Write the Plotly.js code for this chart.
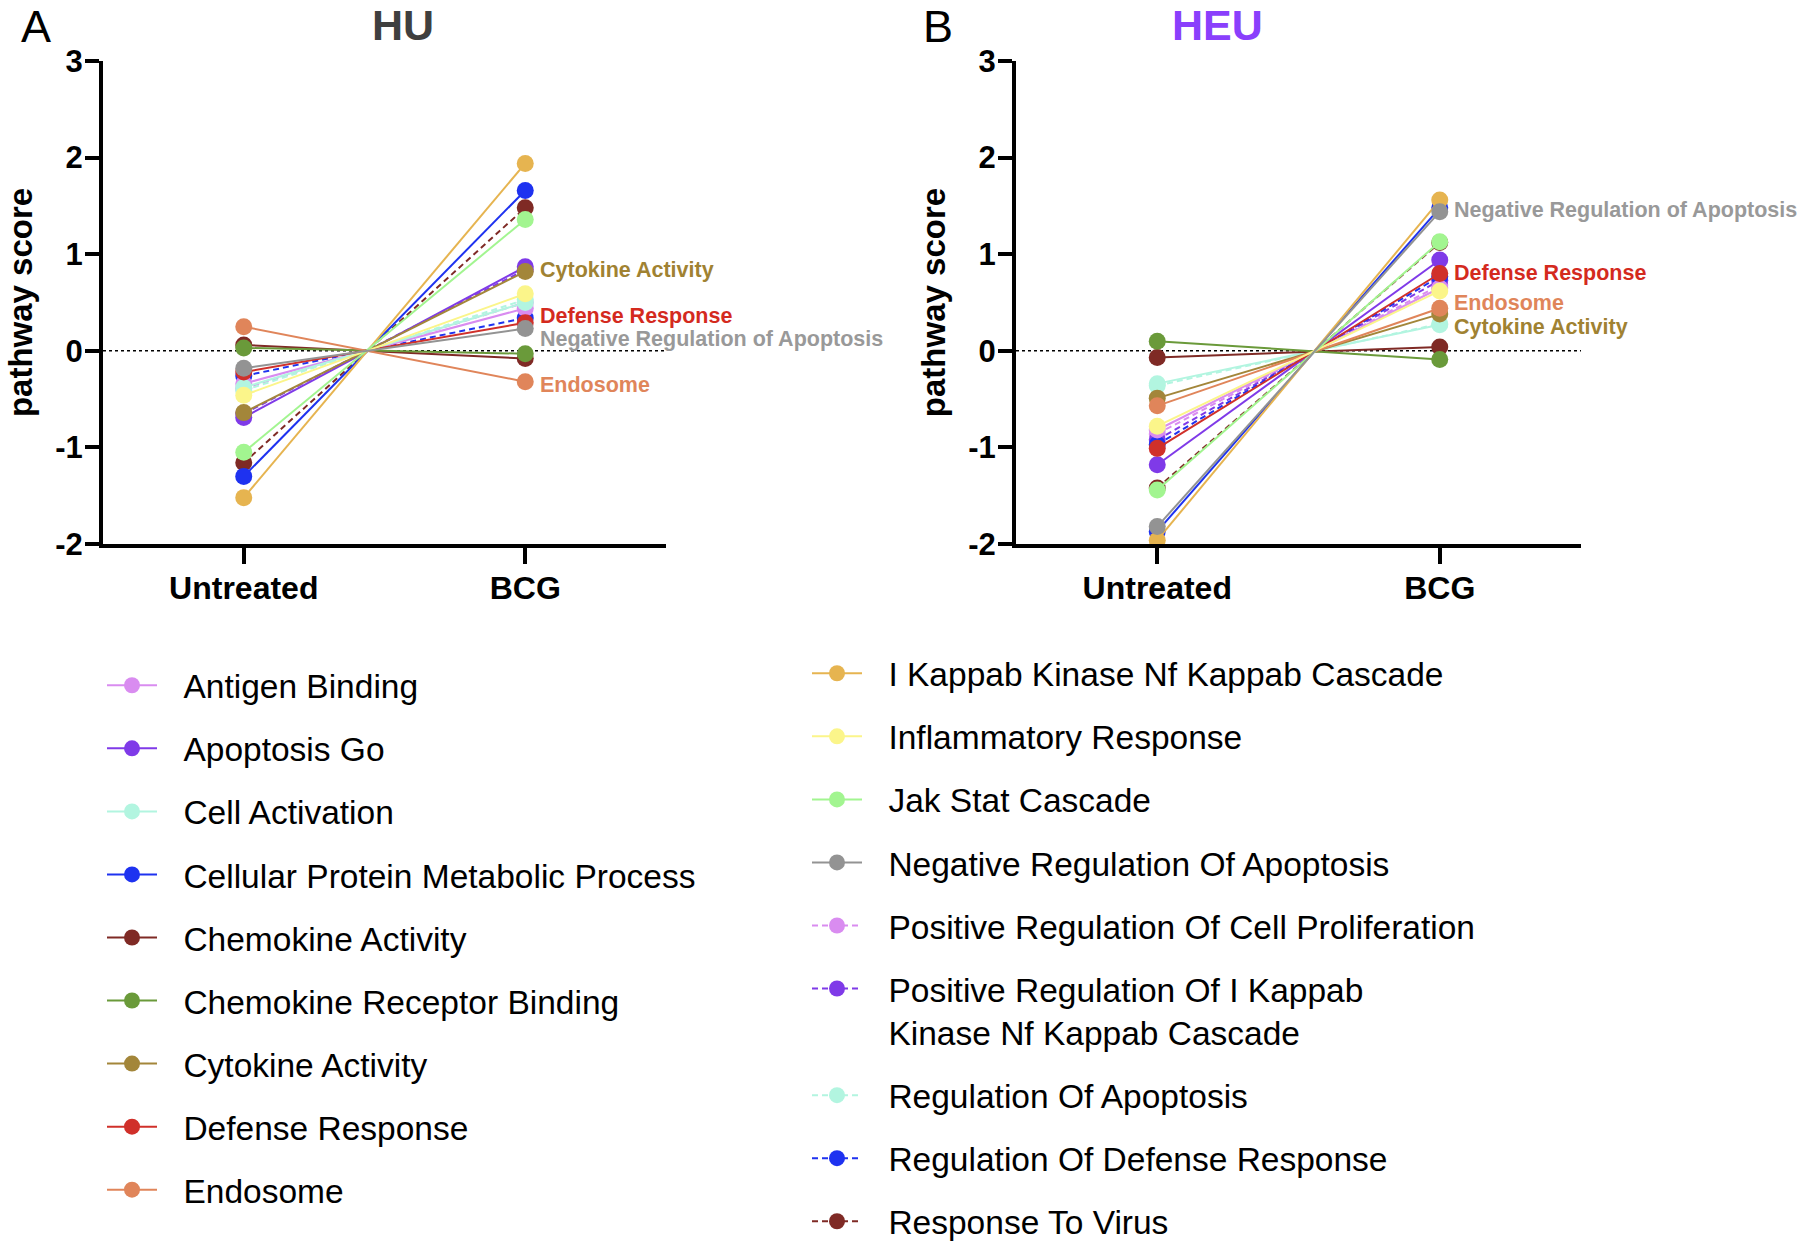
<!DOCTYPE html>
<html>
<head>
<meta charset="utf-8">
<script src="https://cdn.plot.ly/plotly-3.0.1.min.js"></script>
<style>
html,body{margin:0;padding:0;background:#fff;}
#chart{width:1800px;height:1244px;}
</style>
</head>
<body>
<div id="chart"></div>
<script>
// ---------- data ----------
const categories = ['Untreated', 'BCG'];

const pathways = [
  'Antigen Binding',
  'Apoptosis Go',
  'Cell Activation',
  'Cellular Protein Metabolic Process',
  'Chemokine Activity',
  'Chemokine Receptor Binding',
  'Cytokine Activity',
  'Defense Response',
  'Endosome',
  'I Kappab Kinase Nf Kappab Cascade',
  'Inflammatory Response',
  'Jak Stat Cascade',
  'Negative Regulation Of Apoptosis',
  'Positive Regulation Of Cell Proliferation',
  'Positive Regulation Of I Kappab Kinase Nf Kappab Cascade',
  'Regulation Of Apoptosis',
  'Regulation Of Defense Response',
  'Response To Virus'
];

// HU panel (A)
const huUntreated = [-0.34, -0.69, -0.38, -1.30, 0.06, 0.03, -0.64, -0.22, 0.25,
                     -1.52, -0.46, -1.05, -0.18, -0.39, -0.65, -0.41, -0.26, -1.16];
const huBCG       = [0.44, 0.87, 0.50, 1.66, -0.08, -0.03, 0.82, 0.29, -0.32,
                     1.94, 0.59, 1.36, 0.23, 0.50, 0.84, 0.53, 0.34, 1.48];

// HEU panel (B)
const heuUntreated = [-0.82, -1.18, -0.34, -1.87, -0.07, 0.10, -0.49, -1.01, -0.57,
                      -1.96, -0.78, -1.44, -1.82, -0.86, -0.92, -0.36, -0.97, -1.42];
const heuBCG       = [0.65, 0.94, 0.27, 1.48, 0.04, -0.09, 0.38, 0.80, 0.44,
                      1.56, 0.62, 1.13, 1.44, 0.68, 0.73, 0.28, 0.77, 1.12];

const yTickVals = [-2, -1, 0, 1, 2, 3];
const yTickText = ['-2', '-1', '0', '1', '2', '3'];

// labelled pathways next to BCG points
const huLabels = ['Cytokine Activity', 'Defense Response', 'Negative Regulation of Apoptosis', 'Endosome'];
const huLabelY = [0.84, 0.36, 0.12, -0.35];
const heuLabels = ['Negative Regulation of Apoptosis', 'Defense Response', 'Endosome', 'Cytokine Activity'];
const heuLabelY = [1.46, 0.81, 0.49, 0.25];

// ---------- styles ----------
const colors = ['#d98cf0', '#7f3ae8', '#b2f5e0', '#1e32f0', '#7f2a25', '#6a9a3a', '#a3863a', '#d0302a', '#e0855a',
                '#e6b450', '#fbf58a', '#a2f590', '#939393', '#d98cf0', '#7f3ae8', '#b2f5e0', '#1e32f0', '#7f2a25'];
const dashes = ['solid','solid','solid','solid','solid','solid','solid','solid','solid',
                'solid','solid','solid','solid','6px,4px','6px,4px','6px,4px','6px,4px','6px,4px'];
const labelColors = {'Cytokine Activity':'#a08232','Defense Response':'#d42a1e',
                     'Negative Regulation of Apoptosis':'#999999','Endosome':'#e0855a'};

function legendLabel(n){
  const pad = '&nbsp;&nbsp;\u200A';
  return n === 'Positive Regulation Of I Kappab Kinase Nf Kappab Cascade'
    ? pad + 'Positive Regulation Of I Kappab<br>' + pad + 'Kinase Nf Kappab Cascade' : pad + n;
}

// drawing order: dashed series underneath, solid series on top
const drawOrder = [];
for (let i = 0; i < pathways.length; i++) if (dashes[i] !== 'solid') drawOrder.push(i);
for (let i = 0; i < pathways.length; i++) if (dashes[i] === 'solid') drawOrder.push(i);

const traces = [];
drawOrder.forEach(i => {
  traces.push({
    type: 'scatter', mode: 'lines+markers',
    x: categories, y: [huUntreated[i], huBCG[i]],
    xaxis: 'x', yaxis: 'y',
    name: legendLabel(pathways[i]),
    legendgroup: pathways[i], legendrank: i + 1,
    legend: i < 9 ? 'legend' : 'legend2',
    showlegend: true,
    line: {color: colors[i], width: 2, dash: dashes[i]},
    marker: {color: colors[i], size: 17},
    cliponaxis: false
  });
});
drawOrder.forEach(i => {
  traces.push({
    type: 'scatter', mode: 'lines+markers',
    x: categories, y: [heuUntreated[i], heuBCG[i]],
    xaxis: 'x2', yaxis: 'y2',
    name: legendLabel(pathways[i]),
    legendgroup: pathways[i],
    showlegend: false,
    line: {color: colors[i], width: 2, dash: dashes[i]},
    marker: {color: colors[i], size: 17},
    cliponaxis: false
  });
});

const FONT = 'Liberation Sans, Arial, sans-serif';
const W = 1800, H = 1244;
const py = v => (H - v) / H;   // pixel-from-top -> paper y

function xAxis(domain){
  return {
    domain: domain, type: 'category', categoryorder: 'array', categoryarray: categories,
    range: [-0.5, 1.5], showline: true, linecolor: '#000', linewidth: 4,
    ticks: 'outside', ticklen: 16, tickwidth: 4, tickcolor: '#000', ticklabelstandoff: -3,
    showgrid: false, zeroline: false,
    tickfont: {family: FONT, size: 32, color: '#000', weight: 'bold'},
    fixedrange: true
  };
}
function yAxis(anchor){
  return {
    domain: [py(544), py(61)], range: [-2, 3], anchor: anchor,
    tickvals: yTickVals, ticktext: yTickText,
    showline: true, linecolor: '#000', linewidth: 4,
    ticks: 'outside', ticklen: 14, tickwidth: 4, tickcolor: '#000', ticklabelstandoff: -4,
    showgrid: false, zeroline: false,
    tickfont: {family: FONT, size: 31, color: '#000', weight: 'bold'},
    title: {text: 'pathway score', font: {family: FONT, size: 33, color: '#000', weight: 'bold'}, standoff: 14},
    automargin: false, fixedrange: true
  };
}

const annotations = [
  {text: 'A', x: 36/W, y: 1, xref: 'paper', yref: 'paper', xanchor: 'center', yanchor: 'top', borderpad: 0,
   showarrow: false, font: {family: FONT, size: 45, color: '#000'}},
  {text: 'B', x: 938/W, y: 1, xref: 'paper', yref: 'paper', xanchor: 'center', yanchor: 'top', borderpad: 0,
   showarrow: false, font: {family: FONT, size: 45, color: '#000'}},
  {text: 'HU', x: 403/W, y: 1, xref: 'paper', yref: 'paper', xanchor: 'center', yanchor: 'top', borderpad: 0,
   showarrow: false, font: {family: FONT, size: 43, color: '#3f3f3f', weight: 'bold'}},
  {text: 'HEU', x: 1217/W, y: 1, xref: 'paper', yref: 'paper', xanchor: 'center', yanchor: 'top', borderpad: 0,
   showarrow: false, font: {family: FONT, size: 43, color: '#8a3ffc', weight: 'bold'}}
];
huLabels.forEach((t, k) => annotations.push({
  text: t, x: 1.045, y: huLabelY[k], xref: 'x', yref: 'y', xanchor: 'left', yanchor: 'middle',
  showarrow: false, font: {family: FONT, size: 21.5, color: labelColors[t], weight: 'bold'}
}));
heuLabels.forEach((t, k) => annotations.push({
  text: t, x: 1.045, y: heuLabelY[k], xref: 'x2', yref: 'y2', xanchor: 'left', yanchor: 'middle',
  showarrow: false, font: {family: FONT, size: 21.5, color: labelColors[t], weight: 'bold'}
}));

const zeroLine = (xr, yr) => ({type: 'line', xref: xr + ' domain', yref: yr, x0: 0, x1: 1, y0: 0, y1: 0,
  line: {color: '#000', width: 1.5, dash: 'dot'}, layer: 'below'});

const legendBase = {
  font: {family: FONT, size: 33.5, color: '#000'},
  traceorder: 'grouped', tracegroupgap: 16.5, itemwidth: 50, valign: 'top',
  bgcolor: 'rgba(0,0,0,0)', xanchor: 'left', yanchor: 'top', itemclick: false, itemdoubleclick: false
};

const layout = {
  width: W, height: H,
  margin: {l: 0, r: 0, t: 0, b: 0, autoexpand: false},
  paper_bgcolor: '#fff', plot_bgcolor: '#fff',
  font: {family: FONT},
  showlegend: true,
  xaxis: xAxis([103/W, 666/W]), yaxis: yAxis('x'),
  xaxis2: xAxis([1016/W, 1581/W]), yaxis2: yAxis('x2'),
  shapes: [zeroLine('x', 'y'), zeroLine('x2', 'y2')],
  annotations: annotations,
  legend: Object.assign({}, legendBase, {x: 102/W, y: py(657)}),
  legend2: Object.assign({}, legendBase, {x: 807/W, y: py(645)})
};
layout.xaxis.anchor = 'y';
layout.xaxis2.anchor = 'y2';

Plotly.newPlot('chart', traces, layout, {displayModeBar: false, responsive: false});
</script>
</body>
</html>
